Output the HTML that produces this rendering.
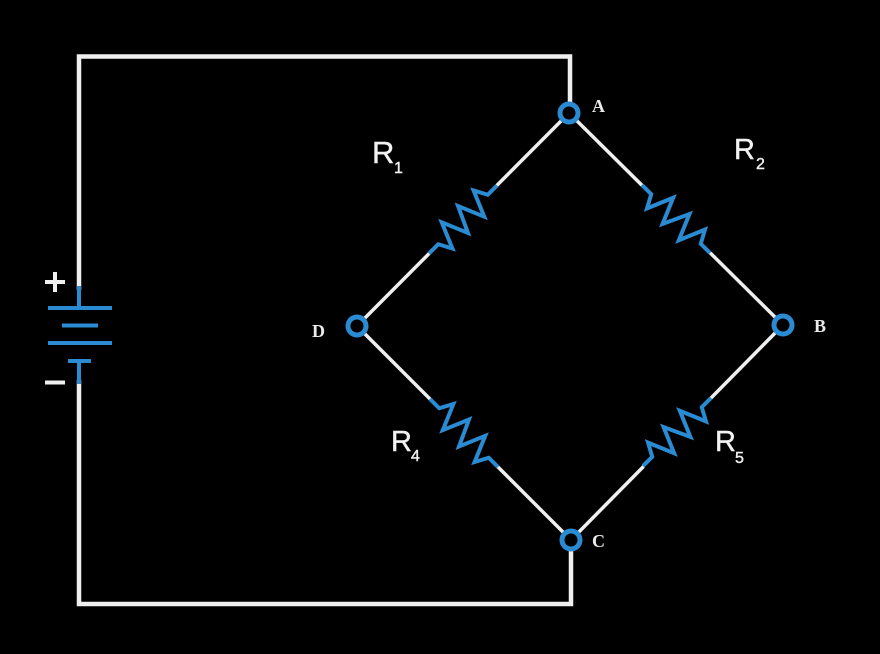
<!DOCTYPE html>
<html>
<head>
<meta charset="utf-8">
<style>
  html,body{margin:0;padding:0;background:#000;}
  svg{display:block;}
  .lbl{font-family:"Liberation Sans",sans-serif;fill:#f2f2f2;stroke:#f2f2f2;stroke-width:0.4;}
  .nd{font-family:"Liberation Serif",serif;font-weight:bold;fill:#eaeaea;font-size:18px;}
</style>
</head>
<body>
<svg width="880" height="654" viewBox="0 0 880 654" xmlns="http://www.w3.org/2000/svg">
  <rect width="880" height="654" fill="#000"/>

  <!-- outer loop wires -->
  <g stroke="#efefef" stroke-width="4.5" fill="none" stroke-linecap="square">
    <polyline points="79,288 79,56.5 570,56.5 570,104"/>
    <polyline points="79,382 79,604 571,604 571,549"/>
  </g>

  <!-- diamond wires -->
  <g stroke="#efefef" stroke-width="3.5" fill="none">
    <line x1="569" y1="113" x2="357" y2="326"/>
    <line x1="569" y1="113" x2="783" y2="325"/>
    <line x1="357" y1="326" x2="571" y2="540"/>
    <line x1="783" y1="325" x2="571" y2="540"/>
  </g>

  <!-- resistors -->
  <g stroke="#2a8bd2" stroke-width="4" fill="none" stroke-linejoin="miter" stroke-linecap="butt">
    <g transform="translate(463,219.5) rotate(135)">
      <rect x="-48" y="-18" width="96" height="36" fill="#000" stroke="none"/>
      <path d="M-48,0 L-35,0 L-28,13 L-17,-13 L-6,13 L6,-13 L17,13 L28,-13 L35,0 L48,0"/>
    </g>
    <g transform="translate(676,219) rotate(45)">
      <rect x="-48" y="-18" width="96" height="36" fill="#000" stroke="none"/>
      <path d="M-48,0 L-35,0 L-28,13 L-17,-13 L-6,13 L6,-13 L17,13 L28,-13 L35,0 L48,0"/>
    </g>
    <g transform="translate(464,433) rotate(45)">
      <rect x="-48" y="-18" width="96" height="36" fill="#000" stroke="none"/>
      <path d="M-48,0 L-35,0 L-28,-13 L-17,13 L-6,-13 L6,13 L17,-13 L28,13 L35,0 L48,0"/>
    </g>
    <g transform="translate(677,432) rotate(135)">
      <rect x="-48" y="-18" width="96" height="36" fill="#000" stroke="none"/>
      <path d="M-48,0 L-35,0 L-28,-13 L-17,13 L-6,-13 L6,13 L17,-13 L28,13 L35,0 L48,0"/>
    </g>
  </g>

  <!-- battery -->
  <g stroke="#2a8bd2" stroke-width="4" fill="none">
    <line x1="79" y1="286" x2="79" y2="308"/>
    <line x1="48" y1="308" x2="112" y2="308"/>
    <line x1="62" y1="325.5" x2="98" y2="325.5"/>
    <line x1="48" y1="343" x2="112" y2="343"/>
    <line x1="68" y1="361" x2="91" y2="361"/>
    <line x1="79" y1="361" x2="79" y2="384"/>
  </g>
  <g stroke="#f0f0f0" stroke-width="4" fill="none">
    <line x1="45" y1="282" x2="65" y2="282"/>
    <line x1="55" y1="272" x2="55" y2="292"/>
    <line x1="45" y1="382.5" x2="65" y2="382.5"/>
  </g>

  <!-- nodes -->
  <g stroke="#2a8bd2" stroke-width="5" fill="#000">
    <circle cx="569" cy="113" r="9"/>
    <circle cx="783" cy="325" r="9"/>
    <circle cx="571" cy="540" r="9"/>
    <circle cx="357" cy="326" r="9"/>
  </g>

  <!-- node letters -->
  <text class="nd" x="592" y="112">A</text>
  <text class="nd" x="814" y="332">B</text>
  <text class="nd" x="592" y="547">C</text>
  <text class="nd" x="312" y="337">D</text>

  <!-- resistor labels -->
  <text class="lbl" x="372" y="163" font-size="31">R</text>
  <text class="lbl" x="394" y="173" font-size="16">1</text>

  <text class="lbl" x="734" y="159" font-size="29">R</text>
  <text class="lbl" x="756" y="169" font-size="16">2</text>

  <text class="lbl" x="391" y="451" font-size="29">R</text>
  <text class="lbl" x="411" y="461" font-size="16">4</text>

  <text class="lbl" x="715" y="451" font-size="29">R</text>
  <text class="lbl" x="735" y="463" font-size="16">5</text>
</svg>
</body>
</html>
